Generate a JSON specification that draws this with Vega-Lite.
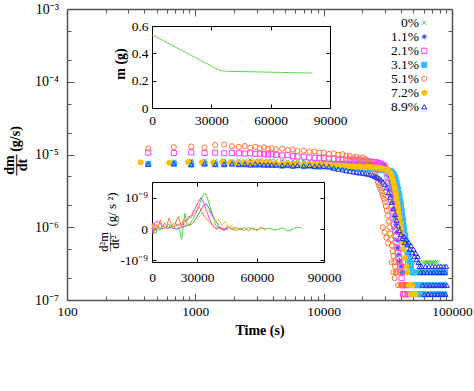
{
"$schema":"https://vega.github.io/schema/vega-lite/v6.json",
"width":385,"height":291,
"autosize":{"type":"none"},
"padding":{"left":67,"top":9,"right":22,"bottom":91},
"background":"white",
"datasets":{
"main":[
{"s":"0%","t":680,"v":8.0e-6},{"s":"0%","t":930,"v":8.2e-6},{"s":"0%","t":1180,"v":8.3e-6},{"s":"0%","t":1430,"v":8.1e-6},{"s":"0%","t":1680,"v":8.4e-6},{"s":"0%","t":1930,"v":8.2e-6},{"s":"0%","t":2180,"v":8.3e-6},{"s":"0%","t":2430,"v":8.1e-6},{"s":"0%","t":2680,"v":8.4e-6},{"s":"0%","t":2930,"v":8.2e-6},{"s":"0%","t":3180,"v":8.3e-6},{"s":"0%","t":3430,"v":8.1e-6},{"s":"0%","t":3680,"v":8.2e-6},{"s":"0%","t":3930,"v":8.3e-6},{"s":"0%","t":4250,"v":8.1e-6},{"s":"0%","t":4750,"v":8.2e-6},{"s":"0%","t":5250,"v":8.0e-6},{"s":"0%","t":5750,"v":8.2e-6},{"s":"0%","t":6250,"v":8.1e-6},{"s":"0%","t":7000,"v":8.0e-6},{"s":"0%","t":7750,"v":8.1e-6},{"s":"0%","t":8500,"v":7.9e-6},{"s":"0%","t":9250,"v":8.0e-6},{"s":"0%","t":10000,"v":7.9e-6},{"s":"0%","t":11000,"v":8.0e-6},{"s":"0%","t":12000,"v":7.8e-6},{"s":"0%","t":13000,"v":7.9e-6},{"s":"0%","t":14000,"v":7.8e-6},{"s":"0%","t":15000,"v":7.9e-6},{"s":"0%","t":16000,"v":7.7e-6},{"s":"0%","t":17000,"v":7.8e-6},{"s":"0%","t":18000,"v":7.7e-6},{"s":"0%","t":19000,"v":7.8e-6},{"s":"0%","t":20000,"v":7.6e-6},{"s":"0%","t":21000,"v":7.7e-6},{"s":"0%","t":22000,"v":7.6e-6},{"s":"0%","t":23000,"v":7.7e-6},{"s":"0%","t":24000,"v":7.5e-6},{"s":"0%","t":25000,"v":7.6e-6},{"s":"0%","t":26000,"v":7.5e-6},{"s":"0%","t":27000,"v":7.4e-6},{"s":"0%","t":28000,"v":7.4e-6},{"s":"0%","t":29000,"v":7.3e-6},{"s":"0%","t":29500,"v":7.2e-6},{"s":"0%","t":30000,"v":7.0e-6},{"s":"0%","t":30500,"v":6.7e-6},{"s":"0%","t":31000,"v":6.2e-6},{"s":"0%","t":31500,"v":5.6e-6},{"s":"0%","t":32000,"v":4.9e-6},{"s":"0%","t":32500,"v":4.2e-6},{"s":"0%","t":33000,"v":3.5e-6},{"s":"0%","t":33500,"v":2.8e-6},{"s":"0%","t":34000,"v":2.2e-6},{"s":"0%","t":34500,"v":1.7e-6},{"s":"0%","t":35000,"v":1.3e-6},{"s":"0%","t":35500,"v":0.95e-6},{"s":"0%","t":36000,"v":0.7e-6},{"s":"0%","t":36500,"v":0.52e-6},{"s":"0%","t":37000,"v":0.41e-6},{"s":"0%","t":37500,"v":0.33e-6},{"s":"0%","t":38000,"v":0.33e-6},{"s":"0%","t":39000,"v":0.24e-6},{"s":"0%","t":40000,"v":0.33e-6},{"s":"0%","t":42000,"v":0.24e-6},{"s":"0%","t":44000,"v":0.33e-6},{"s":"0%","t":46000,"v":0.24e-6},{"s":"0%","t":48000,"v":0.24e-6},{"s":"0%","t":50000,"v":0.33e-6},{"s":"0%","t":52000,"v":0.24e-6},{"s":"0%","t":54000,"v":0.24e-6},{"s":"0%","t":56000,"v":0.33e-6},{"s":"0%","t":58000,"v":0.24e-6},{"s":"0%","t":60000,"v":0.33e-6},{"s":"0%","t":61000,"v":0.24e-6},{"s":"0%","t":62000,"v":0.33e-6},{"s":"0%","t":63000,"v":0.24e-6},{"s":"0%","t":64000,"v":0.33e-6},{"s":"0%","t":65000,"v":0.24e-6},{"s":"0%","t":66000,"v":0.33e-6},{"s":"0%","t":67000,"v":0.24e-6},{"s":"0%","t":68000,"v":0.24e-6},{"s":"0%","t":69000,"v":0.33e-6},{"s":"0%","t":70000,"v":0.24e-6},{"s":"0%","t":71000,"v":0.33e-6},{"s":"0%","t":72000,"v":0.24e-6},{"s":"0%","t":73000,"v":0.24e-6},{"s":"0%","t":74000,"v":0.33e-6},{"s":"0%","t":75000,"v":0.24e-6},{"s":"0%","t":76000,"v":0.24e-6},{"s":"0%","t":77000,"v":0.33e-6},{"s":"0%","t":78000,"v":0.24e-6},
{"s":"1.1%","t":680,"v":7.7e-6},{"s":"1.1%","t":930,"v":7.9e-6},{"s":"1.1%","t":1180,"v":7.8e-6},{"s":"1.1%","t":1430,"v":7.7e-6},{"s":"1.1%","t":1680,"v":7.9e-6},{"s":"1.1%","t":1930,"v":7.8e-6},{"s":"1.1%","t":2180,"v":7.7e-6},{"s":"1.1%","t":2430,"v":7.8e-6},{"s":"1.1%","t":2680,"v":7.9e-6},{"s":"1.1%","t":2930,"v":7.7e-6},{"s":"1.1%","t":3180,"v":7.8e-6},{"s":"1.1%","t":3430,"v":7.7e-6},{"s":"1.1%","t":3680,"v":7.8e-6},{"s":"1.1%","t":3930,"v":7.6e-6},{"s":"1.1%","t":4250,"v":7.7e-6},{"s":"1.1%","t":4750,"v":7.8e-6},{"s":"1.1%","t":5250,"v":7.6e-6},{"s":"1.1%","t":5750,"v":7.7e-6},{"s":"1.1%","t":6250,"v":7.6e-6},{"s":"1.1%","t":7000,"v":7.7e-6},{"s":"1.1%","t":7750,"v":7.5e-6},{"s":"1.1%","t":8500,"v":7.6e-6},{"s":"1.1%","t":9250,"v":7.5e-6},{"s":"1.1%","t":10000,"v":7.6e-6},{"s":"1.1%","t":11000,"v":7.5e-6},{"s":"1.1%","t":12000,"v":7.6e-6},{"s":"1.1%","t":13000,"v":7.4e-6},{"s":"1.1%","t":14000,"v":7.5e-6},{"s":"1.1%","t":15000,"v":7.4e-6},{"s":"1.1%","t":16000,"v":7.5e-6},{"s":"1.1%","t":17000,"v":7.3e-6},{"s":"1.1%","t":18000,"v":7.4e-6},{"s":"1.1%","t":19000,"v":7.3e-6},{"s":"1.1%","t":20000,"v":7.4e-6},{"s":"1.1%","t":21000,"v":7.2e-6},{"s":"1.1%","t":22000,"v":7.3e-6},{"s":"1.1%","t":23000,"v":7.2e-6},{"s":"1.1%","t":24000,"v":7.3e-6},{"s":"1.1%","t":25000,"v":7.1e-6},{"s":"1.1%","t":26000,"v":7.2e-6},{"s":"1.1%","t":27000,"v":7.1e-6},{"s":"1.1%","t":28000,"v":7.0e-6},{"s":"1.1%","t":29000,"v":7.0e-6},{"s":"1.1%","t":30000,"v":6.9e-6},{"s":"1.1%","t":30500,"v":6.7e-6},{"s":"1.1%","t":31000,"v":6.4e-6},{"s":"1.1%","t":31500,"v":6.0e-6},{"s":"1.1%","t":32000,"v":5.5e-6},{"s":"1.1%","t":32500,"v":5.0e-6},{"s":"1.1%","t":33000,"v":4.4e-6},{"s":"1.1%","t":33500,"v":3.8e-6},{"s":"1.1%","t":34000,"v":3.2e-6},{"s":"1.1%","t":34500,"v":2.7e-6},{"s":"1.1%","t":35000,"v":2.2e-6},{"s":"1.1%","t":35500,"v":1.8e-6},{"s":"1.1%","t":36000,"v":1.4e-6},{"s":"1.1%","t":36500,"v":1.1e-6},{"s":"1.1%","t":37000,"v":0.85e-6},{"s":"1.1%","t":37500,"v":0.66e-6},{"s":"1.1%","t":38000,"v":0.52e-6},{"s":"1.1%","t":38500,"v":0.42e-6},{"s":"1.1%","t":39000,"v":0.35e-6},{"s":"1.1%","t":40000,"v":0.29e-6},{"s":"1.1%","t":41000,"v":0.24e-6},{"s":"1.1%","t":42000,"v":0.29e-6},{"s":"1.1%","t":43000,"v":0.24e-6},{"s":"1.1%","t":44000,"v":0.16e-6},{"s":"1.1%","t":45000,"v":0.24e-6},{"s":"1.1%","t":46000,"v":0.16e-6},{"s":"1.1%","t":48000,"v":0.16e-6},{"s":"1.1%","t":50000,"v":0.24e-6},
{"s":"2.1%","t":430,"v":10.6e-6},{"s":"2.1%","t":680,"v":10.5e-6},{"s":"2.1%","t":930,"v":10.7e-6},{"s":"2.1%","t":1180,"v":10.5e-6},{"s":"2.1%","t":1430,"v":10.6e-6},{"s":"2.1%","t":1680,"v":10.4e-6},{"s":"2.1%","t":1930,"v":10.5e-6},{"s":"2.1%","t":2180,"v":10.4e-6},{"s":"2.1%","t":2430,"v":10.3e-6},{"s":"2.1%","t":2680,"v":10.4e-6},{"s":"2.1%","t":2930,"v":10.2e-6},{"s":"2.1%","t":3180,"v":10.3e-6},{"s":"2.1%","t":3430,"v":10.1e-6},{"s":"2.1%","t":3680,"v":10.0e-6},{"s":"2.1%","t":3930,"v":10.1e-6},{"s":"2.1%","t":4250,"v":9.9e-6},{"s":"2.1%","t":4750,"v":9.7e-6},{"s":"2.1%","t":5250,"v":9.8e-6},{"s":"2.1%","t":5750,"v":9.5e-6},{"s":"2.1%","t":6250,"v":9.4e-6},{"s":"2.1%","t":7000,"v":9.3e-6},{"s":"2.1%","t":7750,"v":9.1e-6},{"s":"2.1%","t":8500,"v":9.0e-6},{"s":"2.1%","t":9250,"v":8.9e-6},{"s":"2.1%","t":10000,"v":8.9e-6},{"s":"2.1%","t":11000,"v":8.7e-6},{"s":"2.1%","t":12000,"v":8.6e-6},{"s":"2.1%","t":13000,"v":8.6e-6},{"s":"2.1%","t":14000,"v":8.4e-6},{"s":"2.1%","t":15000,"v":8.5e-6},{"s":"2.1%","t":16000,"v":8.3e-6},{"s":"2.1%","t":17000,"v":8.4e-6},{"s":"2.1%","t":18000,"v":8.2e-6},{"s":"2.1%","t":19000,"v":8.3e-6},{"s":"2.1%","t":20000,"v":8.1e-6},{"s":"2.1%","t":21000,"v":8.2e-6},{"s":"2.1%","t":22000,"v":8.0e-6},{"s":"2.1%","t":23000,"v":8.0e-6},{"s":"2.1%","t":24000,"v":7.9e-6},{"s":"2.1%","t":25000,"v":7.8e-6},{"s":"2.1%","t":26000,"v":7.8e-6},{"s":"2.1%","t":27000,"v":7.6e-6},{"s":"2.1%","t":28000,"v":7.5e-6},{"s":"2.1%","t":29000,"v":7.2e-6},{"s":"2.1%","t":29500,"v":7.0e-6},{"s":"2.1%","t":30000,"v":6.6e-6},{"s":"2.1%","t":30500,"v":6.1e-6},{"s":"2.1%","t":31000,"v":5.5e-6},{"s":"2.1%","t":31500,"v":4.8e-6},{"s":"2.1%","t":32000,"v":4.1e-6},{"s":"2.1%","t":32500,"v":3.5e-6},{"s":"2.1%","t":33000,"v":2.9e-6},{"s":"2.1%","t":33500,"v":2.4e-6},{"s":"2.1%","t":34000,"v":2.0e-6},{"s":"2.1%","t":34500,"v":1.65e-6},{"s":"2.1%","t":35000,"v":1.35e-6},{"s":"2.1%","t":35500,"v":1.1e-6},{"s":"2.1%","t":36000,"v":0.9e-6},{"s":"2.1%","t":36500,"v":0.75e-6},{"s":"2.1%","t":37000,"v":0.62e-6},{"s":"2.1%","t":37500,"v":0.52e-6},{"s":"2.1%","t":38000,"v":0.45e-6},{"s":"2.1%","t":38500,"v":0.38e-6},{"s":"2.1%","t":39000,"v":0.33e-6},{"s":"2.1%","t":39500,"v":0.29e-6},{"s":"2.1%","t":40000,"v":0.24e-6},{"s":"2.1%","t":40500,"v":0.2e-6},{"s":"2.1%","t":41000,"v":0.16e-6},{"s":"2.1%","t":41500,"v":0.12e-6},{"s":"2.1%","t":42000,"v":0.16e-6},{"s":"2.1%","t":43000,"v":0.12e-6},{"s":"2.1%","t":44000,"v":0.16e-6},{"s":"2.1%","t":45000,"v":0.12e-6},{"s":"2.1%","t":46000,"v":0.12e-6},
{"s":"3.1%","t":430,"v":7.4e-6},{"s":"3.1%","t":680,"v":7.5e-6},{"s":"3.1%","t":930,"v":7.3e-6},{"s":"3.1%","t":1180,"v":7.5e-6},{"s":"3.1%","t":1430,"v":7.4e-6},{"s":"3.1%","t":1680,"v":7.3e-6},{"s":"3.1%","t":1930,"v":7.5e-6},{"s":"3.1%","t":2180,"v":7.4e-6},{"s":"3.1%","t":2430,"v":7.3e-6},{"s":"3.1%","t":2680,"v":7.4e-6},{"s":"3.1%","t":2930,"v":7.2e-6},{"s":"3.1%","t":3180,"v":7.3e-6},{"s":"3.1%","t":3430,"v":7.4e-6},{"s":"3.1%","t":3680,"v":7.2e-6},{"s":"3.1%","t":3930,"v":7.3e-6},{"s":"3.1%","t":4250,"v":7.2e-6},{"s":"3.1%","t":4750,"v":7.0e-6},{"s":"3.1%","t":5250,"v":7.2e-6},{"s":"3.1%","t":5750,"v":7.0e-6},{"s":"3.1%","t":6250,"v":7.1e-6},{"s":"3.1%","t":7000,"v":6.9e-6},{"s":"3.1%","t":7750,"v":7.0e-6},{"s":"3.1%","t":8500,"v":6.9e-6},{"s":"3.1%","t":9250,"v":6.8e-6},{"s":"3.1%","t":10000,"v":6.9e-6},{"s":"3.1%","t":11000,"v":6.8e-6},{"s":"3.1%","t":12000,"v":6.7e-6},{"s":"3.1%","t":13000,"v":6.8e-6},{"s":"3.1%","t":14000,"v":6.6e-6},{"s":"3.1%","t":15000,"v":6.7e-6},{"s":"3.1%","t":16000,"v":6.6e-6},{"s":"3.1%","t":17000,"v":6.5e-6},{"s":"3.1%","t":18000,"v":6.6e-6},{"s":"3.1%","t":19000,"v":6.5e-6},{"s":"3.1%","t":20000,"v":6.4e-6},{"s":"3.1%","t":21000,"v":6.5e-6},{"s":"3.1%","t":22000,"v":6.4e-6},{"s":"3.1%","t":23000,"v":6.3e-6},{"s":"3.1%","t":24000,"v":6.4e-6},{"s":"3.1%","t":25000,"v":6.3e-6},{"s":"3.1%","t":26000,"v":6.2e-6},{"s":"3.1%","t":27000,"v":6.3e-6},{"s":"3.1%","t":28000,"v":6.2e-6},{"s":"3.1%","t":29000,"v":6.1e-6},{"s":"3.1%","t":30000,"v":6.2e-6},{"s":"3.1%","t":31000,"v":6.1e-6},{"s":"3.1%","t":32000,"v":6.0e-6},{"s":"3.1%","t":33000,"v":5.9e-6},{"s":"3.1%","t":34000,"v":5.7e-6},{"s":"3.1%","t":35000,"v":5.4e-6},{"s":"3.1%","t":35500,"v":5.1e-6},{"s":"3.1%","t":36000,"v":4.8e-6},{"s":"3.1%","t":36500,"v":4.5e-6},{"s":"3.1%","t":37000,"v":4.1e-6},{"s":"3.1%","t":37500,"v":3.7e-6},{"s":"3.1%","t":38000,"v":3.3e-6},{"s":"3.1%","t":38500,"v":2.9e-6},{"s":"3.1%","t":39000,"v":2.6e-6},{"s":"3.1%","t":39500,"v":2.3e-6},{"s":"3.1%","t":40000,"v":2.0e-6},{"s":"3.1%","t":40500,"v":1.7e-6},{"s":"3.1%","t":41000,"v":1.45e-6},{"s":"3.1%","t":41500,"v":1.25e-6},{"s":"3.1%","t":42000,"v":1.05e-6},{"s":"3.1%","t":42500,"v":0.9e-6},{"s":"3.1%","t":43000,"v":0.78e-6},{"s":"3.1%","t":43500,"v":0.67e-6},{"s":"3.1%","t":44000,"v":0.58e-6},{"s":"3.1%","t":45000,"v":0.45e-6},{"s":"3.1%","t":46000,"v":0.38e-6},{"s":"3.1%","t":47000,"v":0.33e-6},{"s":"3.1%","t":48000,"v":0.29e-6},{"s":"3.1%","t":49000,"v":0.24e-6},{"s":"3.1%","t":50000,"v":0.24e-6},{"s":"3.1%","t":51000,"v":0.16e-6},{"s":"3.1%","t":52000,"v":0.24e-6},{"s":"3.1%","t":53000,"v":0.16e-6},{"s":"3.1%","t":54000,"v":0.12e-6},{"s":"3.1%","t":55000,"v":0.16e-6},{"s":"3.1%","t":56000,"v":0.24e-6},{"s":"3.1%","t":57000,"v":0.12e-6},{"s":"3.1%","t":58000,"v":0.16e-6},{"s":"3.1%","t":59000,"v":0.12e-6},{"s":"3.1%","t":60000,"v":0.24e-6},{"s":"3.1%","t":62000,"v":0.16e-6},{"s":"3.1%","t":63000,"v":0.12e-6},{"s":"3.1%","t":64000,"v":0.24e-6},{"s":"3.1%","t":66000,"v":0.16e-6},{"s":"3.1%","t":67000,"v":0.12e-6},{"s":"3.1%","t":68000,"v":0.24e-6},{"s":"3.1%","t":70000,"v":0.16e-6},{"s":"3.1%","t":71000,"v":0.12e-6},{"s":"3.1%","t":72000,"v":0.24e-6},{"s":"3.1%","t":74000,"v":0.16e-6},{"s":"3.1%","t":75000,"v":0.12e-6},{"s":"3.1%","t":76000,"v":0.24e-6},{"s":"3.1%","t":78000,"v":0.16e-6},{"s":"3.1%","t":79000,"v":0.12e-6},{"s":"3.1%","t":80000,"v":0.24e-6},{"s":"3.1%","t":82000,"v":0.16e-6},{"s":"3.1%","t":83000,"v":0.12e-6},{"s":"3.1%","t":84000,"v":0.24e-6},{"s":"3.1%","t":86000,"v":0.16e-6},{"s":"3.1%","t":87000,"v":0.12e-6},{"s":"3.1%","t":88000,"v":0.24e-6},
{"s":"5.1%","t":430,"v":12.1e-6},{"s":"5.1%","t":680,"v":12.6e-6},{"s":"5.1%","t":930,"v":12.9e-6},{"s":"5.1%","t":1180,"v":12.5e-6},{"s":"5.1%","t":1430,"v":13.5e-6},{"s":"5.1%","t":1680,"v":13.7e-6},{"s":"5.1%","t":1930,"v":13.0e-6},{"s":"5.1%","t":2180,"v":12.7e-6},{"s":"5.1%","t":2430,"v":13.1e-6},{"s":"5.1%","t":2680,"v":12.4e-6},{"s":"5.1%","t":2930,"v":12.7e-6},{"s":"5.1%","t":3180,"v":12.2e-6},{"s":"5.1%","t":3430,"v":12.5e-6},{"s":"5.1%","t":3680,"v":12.0e-6},{"s":"5.1%","t":3930,"v":12.2e-6},{"s":"5.1%","t":4250,"v":11.8e-6},{"s":"5.1%","t":4750,"v":12.0e-6},{"s":"5.1%","t":5250,"v":11.5e-6},{"s":"5.1%","t":5750,"v":11.7e-6},{"s":"5.1%","t":6250,"v":11.2e-6},{"s":"5.1%","t":7000,"v":11.3e-6},{"s":"5.1%","t":7750,"v":10.9e-6},{"s":"5.1%","t":8500,"v":11.0e-6},{"s":"5.1%","t":9250,"v":10.6e-6},{"s":"5.1%","t":10000,"v":10.6e-6},{"s":"5.1%","t":11000,"v":10.2e-6},{"s":"5.1%","t":12000,"v":10.4e-6},{"s":"5.1%","t":13000,"v":9.9e-6},{"s":"5.1%","t":14000,"v":10.1e-6},{"s":"5.1%","t":15000,"v":9.6e-6},{"s":"5.1%","t":16000,"v":9.5e-6},{"s":"5.1%","t":17000,"v":9.1e-6},{"s":"5.1%","t":18000,"v":9.3e-6},{"s":"5.1%","t":19000,"v":8.9e-6},{"s":"5.1%","t":20000,"v":9.1e-6},{"s":"5.1%","t":21000,"v":8.7e-6},{"s":"5.1%","t":22000,"v":8.3e-6},{"s":"5.1%","t":23000,"v":7.7e-6},{"s":"5.1%","t":24000,"v":6.8e-6},{"s":"5.1%","t":25000,"v":5.8e-6},{"s":"5.1%","t":25500,"v":5.2e-6},{"s":"5.1%","t":26000,"v":4.7e-6},{"s":"5.1%","t":26500,"v":4.2e-6},{"s":"5.1%","t":27000,"v":3.8e-6},{"s":"5.1%","t":27500,"v":3.5e-6},{"s":"5.1%","t":28000,"v":3.2e-6},{"s":"5.1%","t":28500,"v":2.95e-6},{"s":"5.1%","t":29000,"v":2.7e-6},{"s":"5.1%","t":29500,"v":2.45e-6},{"s":"5.1%","t":30000,"v":2.2e-6},{"s":"5.1%","t":30500,"v":1.95e-6},{"s":"5.1%","t":31000,"v":1.7e-6},{"s":"5.1%","t":31500,"v":1.45e-6},{"s":"5.1%","t":32000,"v":1.2e-6},{"s":"5.1%","t":32500,"v":1.0e-6},{"s":"5.1%","t":33000,"v":0.82e-6},{"s":"5.1%","t":33500,"v":0.68e-6},{"s":"5.1%","t":34000,"v":0.56e-6},{"s":"5.1%","t":34500,"v":0.47e-6},{"s":"5.1%","t":35000,"v":0.4e-6},{"s":"5.1%","t":35500,"v":0.33e-6},{"s":"5.1%","t":36000,"v":0.29e-6},{"s":"5.1%","t":36500,"v":0.24e-6},{"s":"5.1%","t":37000,"v":0.24e-6},{"s":"5.1%","t":38000,"v":0.16e-6},{"s":"5.1%","t":39000,"v":0.24e-6},{"s":"5.1%","t":40000,"v":0.16e-6},{"s":"5.1%","t":41000,"v":0.16e-6},{"s":"5.1%","t":42000,"v":0.12e-6},{"s":"5.1%","t":43000,"v":0.16e-6},{"s":"5.1%","t":28800,"v":1.0e-6},{"s":"5.1%","t":29800,"v":0.85e-6},{"s":"5.1%","t":30800,"v":0.72e-6},{"s":"5.1%","t":31800,"v":0.6e-6},{"s":"5.1%","t":33800,"v":0.33e-6},{"s":"5.1%","t":34800,"v":0.24e-6},{"s":"5.1%","t":35800,"v":0.2e-6},
{"s":"7.2%","t":375,"v":7.8e-6},{"s":"7.2%","t":625,"v":7.7e-6},{"s":"7.2%","t":875,"v":7.9e-6},{"s":"7.2%","t":1125,"v":7.8e-6},{"s":"7.2%","t":1375,"v":7.7e-6},{"s":"7.2%","t":1625,"v":7.9e-6},{"s":"7.2%","t":1875,"v":7.8e-6},{"s":"7.2%","t":2125,"v":7.7e-6},{"s":"7.2%","t":2375,"v":7.8e-6},{"s":"7.2%","t":2625,"v":7.6e-6},{"s":"7.2%","t":2875,"v":7.7e-6},{"s":"7.2%","t":3125,"v":7.8e-6},{"s":"7.2%","t":3375,"v":7.6e-6},{"s":"7.2%","t":3625,"v":7.7e-6},{"s":"7.2%","t":3875,"v":7.6e-6},{"s":"7.2%","t":4250,"v":7.6e-6},{"s":"7.2%","t":4750,"v":7.5e-6},{"s":"7.2%","t":5250,"v":7.6e-6},{"s":"7.2%","t":5750,"v":7.4e-6},{"s":"7.2%","t":6250,"v":7.5e-6},{"s":"7.2%","t":7000,"v":7.4e-6},{"s":"7.2%","t":7750,"v":7.3e-6},{"s":"7.2%","t":8500,"v":7.4e-6},{"s":"7.2%","t":9250,"v":7.3e-6},{"s":"7.2%","t":10000,"v":7.2e-6},{"s":"7.2%","t":11000,"v":7.2e-6},{"s":"7.2%","t":12000,"v":7.1e-6},{"s":"7.2%","t":13000,"v":7.1e-6},{"s":"7.2%","t":14000,"v":7.0e-6},{"s":"7.2%","t":15000,"v":7.0e-6},{"s":"7.2%","t":16000,"v":6.9e-6},{"s":"7.2%","t":17000,"v":6.9e-6},{"s":"7.2%","t":18000,"v":6.8e-6},{"s":"7.2%","t":19000,"v":6.9e-6},{"s":"7.2%","t":20000,"v":6.8e-6},{"s":"7.2%","t":21000,"v":6.7e-6},{"s":"7.2%","t":22000,"v":6.8e-6},{"s":"7.2%","t":23000,"v":6.7e-6},{"s":"7.2%","t":24000,"v":6.6e-6},{"s":"7.2%","t":25000,"v":6.7e-6},{"s":"7.2%","t":26000,"v":6.6e-6},{"s":"7.2%","t":27000,"v":6.5e-6},{"s":"7.2%","t":28000,"v":6.5e-6},{"s":"7.2%","t":29000,"v":6.4e-6},{"s":"7.2%","t":30000,"v":6.3e-6},{"s":"7.2%","t":31000,"v":6.2e-6},{"s":"7.2%","t":32000,"v":6.0e-6},{"s":"7.2%","t":33000,"v":5.6e-6},{"s":"7.2%","t":33500,"v":5.3e-6},{"s":"7.2%","t":34000,"v":4.9e-6},{"s":"7.2%","t":34500,"v":4.5e-6},{"s":"7.2%","t":35000,"v":4.1e-6},{"s":"7.2%","t":35500,"v":3.7e-6},{"s":"7.2%","t":36000,"v":3.3e-6},{"s":"7.2%","t":36500,"v":2.9e-6},{"s":"7.2%","t":37000,"v":2.5e-6},{"s":"7.2%","t":37500,"v":2.15e-6},{"s":"7.2%","t":38000,"v":1.85e-6},{"s":"7.2%","t":38500,"v":1.6e-6},{"s":"7.2%","t":39000,"v":1.35e-6},{"s":"7.2%","t":39500,"v":1.15e-6},{"s":"7.2%","t":40000,"v":0.97e-6},{"s":"7.2%","t":40500,"v":0.82e-6},{"s":"7.2%","t":41000,"v":0.7e-6},{"s":"7.2%","t":41500,"v":0.6e-6},{"s":"7.2%","t":42000,"v":0.5e-6},{"s":"7.2%","t":43000,"v":0.38e-6},{"s":"7.2%","t":44000,"v":0.29e-6},{"s":"7.2%","t":45000,"v":0.24e-6},{"s":"7.2%","t":46000,"v":0.16e-6},{"s":"7.2%","t":47000,"v":0.16e-6},{"s":"7.2%","t":48000,"v":0.12e-6},{"s":"7.2%","t":49000,"v":0.16e-6},{"s":"7.2%","t":50000,"v":0.12e-6},{"s":"7.2%","t":51000,"v":0.12e-6},{"s":"7.2%","t":52000,"v":0.12e-6},
{"s":"8.9%","t":430,"v":7.4e-6},{"s":"8.9%","t":680,"v":7.5e-6},{"s":"8.9%","t":930,"v":7.3e-6},{"s":"8.9%","t":1180,"v":7.5e-6},{"s":"8.9%","t":1430,"v":7.3e-6},{"s":"8.9%","t":1680,"v":7.4e-6},{"s":"8.9%","t":1930,"v":7.5e-6},{"s":"8.9%","t":2180,"v":7.3e-6},{"s":"8.9%","t":2430,"v":7.4e-6},{"s":"8.9%","t":2680,"v":7.2e-6},{"s":"8.9%","t":2930,"v":7.4e-6},{"s":"8.9%","t":3180,"v":7.3e-6},{"s":"8.9%","t":3430,"v":7.2e-6},{"s":"8.9%","t":3680,"v":7.3e-6},{"s":"8.9%","t":3930,"v":7.2e-6},{"s":"8.9%","t":4250,"v":7.2e-6},{"s":"8.9%","t":4750,"v":7.1e-6},{"s":"8.9%","t":5250,"v":7.2e-6},{"s":"8.9%","t":5750,"v":7.0e-6},{"s":"8.9%","t":6250,"v":7.1e-6},{"s":"8.9%","t":7000,"v":7.0e-6},{"s":"8.9%","t":7750,"v":7.1e-6},{"s":"8.9%","t":8500,"v":6.9e-6},{"s":"8.9%","t":9250,"v":7.0e-6},{"s":"8.9%","t":10000,"v":6.9e-6},{"s":"8.9%","t":11000,"v":6.8e-6},{"s":"8.9%","t":12000,"v":6.5e-6},{"s":"8.9%","t":13000,"v":6.3e-6},{"s":"8.9%","t":14000,"v":6.2e-6},{"s":"8.9%","t":15000,"v":6.0e-6},{"s":"8.9%","t":16000,"v":5.9e-6},{"s":"8.9%","t":17000,"v":5.8e-6},{"s":"8.9%","t":18000,"v":5.7e-6},{"s":"8.9%","t":19000,"v":5.6e-6},{"s":"8.9%","t":20000,"v":5.6e-6},{"s":"8.9%","t":21000,"v":5.5e-6},{"s":"8.9%","t":22000,"v":5.4e-6},{"s":"8.9%","t":23000,"v":5.3e-6},{"s":"8.9%","t":24000,"v":5.2e-6},{"s":"8.9%","t":25000,"v":5.0e-6},{"s":"8.9%","t":26000,"v":4.9e-6},{"s":"8.9%","t":27000,"v":4.7e-6},{"s":"8.9%","t":28000,"v":4.5e-6},{"s":"8.9%","t":29000,"v":4.2e-6},{"s":"8.9%","t":30000,"v":3.9e-6},{"s":"8.9%","t":31000,"v":3.5e-6},{"s":"8.9%","t":32000,"v":3.0e-6},{"s":"8.9%","t":33000,"v":2.6e-6},{"s":"8.9%","t":34000,"v":2.2e-6},{"s":"8.9%","t":35000,"v":1.8e-6},{"s":"8.9%","t":36000,"v":1.5e-6},{"s":"8.9%","t":37000,"v":1.25e-6},{"s":"8.9%","t":38000,"v":1.05e-6},{"s":"8.9%","t":39000,"v":0.9e-6},{"s":"8.9%","t":40000,"v":0.8e-6},{"s":"8.9%","t":41000,"v":0.7e-6},{"s":"8.9%","t":42000,"v":0.75e-6},{"s":"8.9%","t":43000,"v":0.62e-6},{"s":"8.9%","t":44000,"v":0.68e-6},{"s":"8.9%","t":45000,"v":0.58e-6},{"s":"8.9%","t":46000,"v":0.62e-6},{"s":"8.9%","t":47000,"v":0.5e-6},{"s":"8.9%","t":48000,"v":0.56e-6},{"s":"8.9%","t":49000,"v":0.45e-6},{"s":"8.9%","t":50000,"v":0.5e-6},{"s":"8.9%","t":51000,"v":0.4e-6},{"s":"8.9%","t":52000,"v":0.44e-6},{"s":"8.9%","t":53000,"v":0.36e-6},{"s":"8.9%","t":54000,"v":0.4e-6},{"s":"8.9%","t":55000,"v":0.33e-6},{"s":"8.9%","t":56000,"v":0.29e-6},{"s":"8.9%","t":57000,"v":0.24e-6},{"s":"8.9%","t":58000,"v":0.29e-6},{"s":"8.9%","t":59000,"v":0.16e-6},{"s":"8.9%","t":60000,"v":0.24e-6},{"s":"8.9%","t":61000,"v":0.12e-6},{"s":"8.9%","t":62000,"v":0.29e-6},{"s":"8.9%","t":63000,"v":0.16e-6},{"s":"8.9%","t":64000,"v":0.24e-6},{"s":"8.9%","t":65000,"v":0.12e-6},{"s":"8.9%","t":66000,"v":0.29e-6},{"s":"8.9%","t":67000,"v":0.16e-6},{"s":"8.9%","t":68000,"v":0.24e-6},{"s":"8.9%","t":69000,"v":0.12e-6},{"s":"8.9%","t":70000,"v":0.29e-6},{"s":"8.9%","t":71000,"v":0.16e-6},{"s":"8.9%","t":72000,"v":0.24e-6},{"s":"8.9%","t":73000,"v":0.12e-6},{"s":"8.9%","t":74000,"v":0.29e-6},{"s":"8.9%","t":75000,"v":0.16e-6},{"s":"8.9%","t":76000,"v":0.24e-6},{"s":"8.9%","t":77000,"v":0.12e-6},{"s":"8.9%","t":78000,"v":0.29e-6},{"s":"8.9%","t":79000,"v":0.16e-6},{"s":"8.9%","t":80000,"v":0.24e-6},{"s":"8.9%","t":81000,"v":0.12e-6},{"s":"8.9%","t":82000,"v":0.29e-6},{"s":"8.9%","t":83000,"v":0.16e-6},{"s":"8.9%","t":84000,"v":0.24e-6},{"s":"8.9%","t":85000,"v":0.12e-6},{"s":"8.9%","t":86000,"v":0.29e-6},{"s":"8.9%","t":87000,"v":0.16e-6},{"s":"8.9%","t":88000,"v":0.24e-6},{"s":"8.9%","t":89000,"v":0.12e-6},{"s":"8.9%","t":90000,"v":0.29e-6},{"s":"8.9%","t":91000,"v":0.16e-6}
],
"mass":[
{"t":0,"m":0.535},{"t":2500,"m":0.517},{"t":5000,"m":0.498},{"t":7500,"m":0.479},{"t":10000,"m":0.46},{"t":12500,"m":0.441},{"t":15000,"m":0.422},{"t":17500,"m":0.403},{"t":20000,"m":0.384},{"t":22500,"m":0.365},{"t":25000,"m":0.346},{"t":27500,"m":0.327},{"t":30000,"m":0.308},{"t":32000,"m":0.292},{"t":33500,"m":0.281},{"t":34500,"m":0.275},{"t":35500,"m":0.272},{"t":37000,"m":0.27},{"t":40000,"m":0.268},{"t":45000,"m":0.2665},{"t":50000,"m":0.265},{"t":55000,"m":0.2635},{"t":60000,"m":0.262},{"t":65000,"m":0.2605},{"t":70000,"m":0.259},{"t":75000,"m":0.2575},{"t":80000,"m":0.256},{"t":81000,"m":0.2555}
],
"d2":[
{"s":"0%","t":0,"a":0.0},{"s":"0%","t":1000,"a":0.05e-9},{"s":"0%","t":2500,"a":-0.1e-9},{"s":"0%","t":4000,"a":-0.15e-9},{"s":"0%","t":5500,"a":0.05e-9},{"s":"0%","t":7000,"a":-0.05e-9},{"s":"0%","t":9000,"a":0.1e-9},{"s":"0%","t":11000,"a":0.05e-9},{"s":"0%","t":13000,"a":0.15e-9},{"s":"0%","t":15000,"a":0.1e-9},{"s":"0%","t":17000,"a":0.2e-9},{"s":"0%","t":19000,"a":0.1e-9},{"s":"0%","t":20300,"a":-0.1e-9},{"s":"0%","t":21300,"a":-0.33e-9},{"s":"0%","t":23200,"a":0.5e-9},{"s":"0%","t":24500,"a":0.15e-9},{"s":"0%","t":26000,"a":0.15e-9},{"s":"0%","t":27500,"a":0.3e-9},{"s":"0%","t":29000,"a":0.45e-9},{"s":"0%","t":30500,"a":0.65e-9},{"s":"0%","t":32000,"a":0.9e-9},{"s":"0%","t":33500,"a":1.1e-9},{"s":"0%","t":34300,"a":1.15e-9},{"s":"0%","t":35500,"a":1.0e-9},{"s":"0%","t":37000,"a":0.7e-9},{"s":"0%","t":38500,"a":0.4e-9},{"s":"0%","t":40000,"a":0.1e-9},{"s":"0%","t":42000,"a":0.02e-9},{"s":"0%","t":44000,"a":-0.03e-9},{"s":"0%","t":46000,"a":0.05e-9},{"s":"0%","t":48000,"a":0.0},{"s":"0%","t":50000,"a":-0.05e-9},{"s":"0%","t":52000,"a":0.03e-9},{"s":"0%","t":54000,"a":-0.05e-9},{"s":"0%","t":56000,"a":0.05e-9},{"s":"0%","t":58000,"a":0.0},{"s":"0%","t":60000,"a":-0.02e-9},{"s":"0%","t":62000,"a":0.03e-9},{"s":"0%","t":64000,"a":0.0},{"s":"0%","t":66000,"a":0.02e-9},{"s":"0%","t":68000,"a":-0.03e-9},{"s":"0%","t":70000,"a":0.0},{"s":"0%","t":72000,"a":0.04e-9},{"s":"0%","t":74000,"a":-0.06e-9},{"s":"0%","t":76000,"a":-0.02e-9},{"s":"0%","t":78000,"a":0.06e-9},{"s":"0%","t":80000,"a":0.05e-9},
{"s":"1.1%","t":0,"a":0.05e-9},{"s":"1.1%","t":3000,"a":0.0},{"s":"1.1%","t":6000,"a":0.05e-9},{"s":"1.1%","t":9000,"a":0.0},{"s":"1.1%","t":12000,"a":0.08e-9},{"s":"1.1%","t":15000,"a":0.05e-9},{"s":"1.1%","t":18000,"a":0.0},{"s":"1.1%","t":21000,"a":0.05e-9},{"s":"1.1%","t":24000,"a":0.1e-9},{"s":"1.1%","t":27000,"a":0.15e-9},{"s":"1.1%","t":29000,"a":0.3e-9},{"s":"1.1%","t":31000,"a":0.5e-9},{"s":"1.1%","t":33000,"a":0.7e-9},{"s":"1.1%","t":34800,"a":0.82e-9},{"s":"1.1%","t":36500,"a":0.65e-9},{"s":"1.1%","t":38000,"a":0.45e-9},{"s":"1.1%","t":40000,"a":0.25e-9},{"s":"1.1%","t":42000,"a":0.05e-9},{"s":"1.1%","t":44000,"a":0.0},{"s":"1.1%","t":46000,"a":0.03e-9},
{"s":"2.1%","t":0,"a":0.05e-9},{"s":"2.1%","t":1500,"a":-0.15e-9},{"s":"2.1%","t":3000,"a":0.2e-9},{"s":"2.1%","t":5000,"a":0.25e-9},{"s":"2.1%","t":7000,"a":0.2e-9},{"s":"2.1%","t":9000,"a":0.1e-9},{"s":"2.1%","t":11000,"a":0.05e-9},{"s":"2.1%","t":13000,"a":0.0},{"s":"2.1%","t":15000,"a":0.1e-9},{"s":"2.1%","t":17000,"a":0.05e-9},{"s":"2.1%","t":19000,"a":0.15e-9},{"s":"2.1%","t":21000,"a":0.1e-9},{"s":"2.1%","t":23000,"a":0.2e-9},{"s":"2.1%","t":25000,"a":0.35e-9},{"s":"2.1%","t":27000,"a":0.45e-9},{"s":"2.1%","t":29000,"a":0.65e-9},{"s":"2.1%","t":30500,"a":0.85e-9},{"s":"2.1%","t":32200,"a":1.0e-9},{"s":"2.1%","t":33500,"a":0.85e-9},{"s":"2.1%","t":35000,"a":0.6e-9},{"s":"2.1%","t":36500,"a":0.35e-9},{"s":"2.1%","t":38000,"a":0.15e-9},{"s":"2.1%","t":40000,"a":0.0},{"s":"2.1%","t":42000,"a":0.05e-9},{"s":"2.1%","t":44000,"a":-0.02e-9},{"s":"2.1%","t":46000,"a":0.0},
{"s":"5.1%","t":0,"a":0.1e-9},{"s":"5.1%","t":1500,"a":0.2e-9},{"s":"5.1%","t":3000,"a":-0.05e-9},{"s":"5.1%","t":4500,"a":0.15e-9},{"s":"5.1%","t":6000,"a":0.05e-9},{"s":"5.1%","t":7500,"a":0.3e-9},{"s":"5.1%","t":9000,"a":0.05e-9},{"s":"5.1%","t":10500,"a":0.2e-9},{"s":"5.1%","t":12000,"a":0.1e-9},{"s":"5.1%","t":13500,"a":0.35e-9},{"s":"5.1%","t":15000,"a":0.15e-9},{"s":"5.1%","t":16500,"a":0.05e-9},{"s":"5.1%","t":18000,"a":0.25e-9},{"s":"5.1%","t":19500,"a":0.4e-9},{"s":"5.1%","t":21000,"a":0.1e-9},{"s":"5.1%","t":22500,"a":0.3e-9},{"s":"5.1%","t":24000,"a":0.25e-9},{"s":"5.1%","t":25500,"a":0.35e-9},{"s":"5.1%","t":27000,"a":0.4e-9},{"s":"5.1%","t":28500,"a":0.5e-9},{"s":"5.1%","t":30000,"a":0.6e-9},{"s":"5.1%","t":31000,"a":0.72e-9},{"s":"5.1%","t":32500,"a":0.55e-9},{"s":"5.1%","t":34000,"a":0.4e-9},{"s":"5.1%","t":35500,"a":0.3e-9},{"s":"5.1%","t":37000,"a":0.2e-9},{"s":"5.1%","t":38500,"a":0.1e-9},{"s":"5.1%","t":40000,"a":0.02e-9},{"s":"5.1%","t":42000,"a":0.05e-9},{"s":"5.1%","t":44000,"a":-0.05e-9},{"s":"5.1%","t":46000,"a":0.1e-9},{"s":"5.1%","t":48000,"a":0.0},{"s":"5.1%","t":50000,"a":0.05e-9},{"s":"5.1%","t":52000,"a":-0.03e-9},{"s":"5.1%","t":54000,"a":0.05e-9},{"s":"5.1%","t":56000,"a":-0.06e-9},{"s":"5.1%","t":58000,"a":0.04e-9},{"s":"5.1%","t":60000,"a":-0.05e-9},{"s":"5.1%","t":62000,"a":0.05e-9},{"s":"5.1%","t":64000,"a":-0.02e-9},
{"s":"7.2%","t":0,"a":0.15e-9},{"s":"7.2%","t":2000,"a":0.0},{"s":"7.2%","t":4000,"a":0.1e-9},{"s":"7.2%","t":6000,"a":0.0},{"s":"7.2%","t":8000,"a":0.05e-9},{"s":"7.2%","t":10000,"a":0.1e-9},{"s":"7.2%","t":12000,"a":0.05e-9},{"s":"7.2%","t":14000,"a":0.1e-9},{"s":"7.2%","t":16000,"a":0.05e-9},{"s":"7.2%","t":18000,"a":0.1e-9},{"s":"7.2%","t":20000,"a":0.05e-9},{"s":"7.2%","t":22000,"a":0.1e-9},{"s":"7.2%","t":24000,"a":0.15e-9},{"s":"7.2%","t":26000,"a":0.1e-9},{"s":"7.2%","t":28000,"a":0.2e-9},{"s":"7.2%","t":30000,"a":0.3e-9},{"s":"7.2%","t":32000,"a":0.45e-9},{"s":"7.2%","t":34000,"a":0.55e-9},{"s":"7.2%","t":35500,"a":0.62e-9},{"s":"7.2%","t":37000,"a":0.5e-9},{"s":"7.2%","t":38500,"a":0.35e-9},{"s":"7.2%","t":40000,"a":0.25e-9},{"s":"7.2%","t":41500,"a":0.3e-9},{"s":"7.2%","t":43000,"a":0.1e-9},{"s":"7.2%","t":44500,"a":0.25e-9},{"s":"7.2%","t":46000,"a":0.05e-9},{"s":"7.2%","t":48000,"a":0.1e-9},{"s":"7.2%","t":50000,"a":0.0}
]
},
"layer":[
{
"data":{"name":"main"},
"mark":{"type":"point","size":26,"strokeWidth":1,"opacity":1},
"encoding":{
"x":{"field":"t","type":"quantitative","scale":{"type":"log","domain":[100,100000],"nice":false},
"axis":{"orient":"bottom","values":[100,200,300,400,500,600,700,800,900,1000,2000,3000,4000,5000,6000,7000,8000,9000,10000,20000,30000,40000,50000,60000,70000,80000,90000,100000],
"format":"d","labelExpr":"abs(log(datum.value)/LN10 - round(log(datum.value)/LN10)) < 0.01 ? datum.label : ''",
"tickSize":{"condition":{"test":"abs(log(datum.value)/LN10 - round(log(datum.value)/LN10)) < 0.01","value":-7},"value":-4},
"labelPadding":11,"labelFontSize":13.5,"domainColor":"#555555","domainWidth":1.5,"tickColor":"#555555",
"title":"Time (s)","titleFontWeight":"bold","titleFontSize":14,"titleX":192.5,"titleY":34,"titleAlign":"center","titleBaseline":"alphabetic"}},
"y":{"field":"v","type":"quantitative","scale":{"type":"log","domain":[1e-7,1e-3],"nice":false},
"axis":{"orient":"left","values":[1e-7,2e-7,5e-7,1e-6,2e-6,5e-6,1e-5,2e-5,5e-5,1e-4,2e-4,5e-4,1e-3],
"labelExpr":"abs(log(datum.value)/LN10 - round(log(datum.value)/LN10)) > 0.01 ? '' : round(log(datum.value)/LN10) == -3 ? '10⁻³' : round(log(datum.value)/LN10) == -4 ? '10⁻⁴' : round(log(datum.value)/LN10) == -5 ? '10⁻⁵' : round(log(datum.value)/LN10) == -6 ? '10⁻⁶' : '10⁻⁷'",
"tickSize":{"condition":{"test":"abs(log(datum.value)/LN10 - round(log(datum.value)/LN10)) < 0.01","value":-7},"value":-4},
"labelPadding":15.5,"labelFontSize":14,"domainColor":"#555555","domainWidth":1.5,"tickColor":"#555555",
"title":["dm","—–","dt"],"titleFontWeight":"bold","titleFontSize":14,"titleLineHeight":6.7,"titleAngle":270,"titleX":-54,"titleY":155.5,"titleAlign":"center","titleBaseline":"alphabetic"}},
"shape":{"field":"s","type":"nominal","scale":{"domain":["0%","1.1%","2.1%","3.1%","5.1%","7.2%","8.9%"],"range":["M-0.8,-0.8L0.8,0.8M-0.8,0.8L0.8,-0.8","M-1,0L1,0M0,-1L0,1M-0.7,-0.7L0.7,0.7M-0.7,0.7L0.7,-0.7","square","square","circle","circle","triangle-up"]},
"legend":{"title":null,"orient":"none","legendX":350.5,"legendY":7}},
"fill":{"field":"s","type":"nominal","scale":{"domain":["0%","1.1%","2.1%","3.1%","5.1%","7.2%","8.9%"],"range":["transparent","transparent","transparent","#33bbff","transparent","#ffc000","transparent"]},
"legend":{"title":null,"orient":"none","legendX":350.5,"legendY":7}},
"stroke":{"field":"s","type":"nominal","scale":{"domain":["0%","1.1%","2.1%","3.1%","5.1%","7.2%","8.9%"],"range":["#2ecc2e","#3d3dff","#ff40ff","#33bbff","#ff7030","#ffc000","#2233ee"]},
"legend":{"title":null,"orient":"none","legendX":350.5,"legendY":7}}
}
},
{
"data":{"values":[{"t":100,"v":1e-7},{"t":100000,"v":1e-3}]},
"mark":{"type":"point","opacity":0},
"encoding":{
"x":{"field":"t","type":"quantitative","scale":{"type":"log","domain":[100,100000],"nice":false},
"axis":{"orient":"top","values":[100,200,300,400,500,600,700,800,900,1000,2000,3000,4000,5000,6000,7000,8000,9000,10000,20000,30000,40000,50000,60000,70000,80000,90000,100000],
"labels":false,"tickSize":{"condition":{"test":"abs(log(datum.value)/LN10 - round(log(datum.value)/LN10)) < 0.01","value":-7},"value":-4},
"domainColor":"#555555","domainWidth":1.5,"tickColor":"#555555","title":null}},
"y":{"field":"v","type":"quantitative","scale":{"type":"log","domain":[1e-7,1e-3],"nice":false},
"axis":{"orient":"right","values":[1e-7,2e-7,5e-7,1e-6,2e-6,5e-6,1e-5,2e-5,5e-5,1e-4,2e-4,5e-4,1e-3],
"labels":false,"tickSize":{"condition":{"test":"abs(log(datum.value)/LN10 - round(log(datum.value)/LN10)) < 0.01","value":-7},"value":-4},
"domainColor":"#555555","domainWidth":1.5,"tickColor":"#555555",
"title":"(g/s)","titleFontWeight":"bold","titleFontSize":14,"titleAngle":270,"titleX":-432.5,"titleY":129.5,"titleAlign":"center","titleBaseline":"alphabetic"}}
}
},
{
"data":{"name":"mass"},
"mark":{"type":"line","color":"#55dd44","strokeWidth":1},
"encoding":{
"x":{"field":"t","type":"quantitative","scale":{"domain":[0,90000],"range":[85,263],"nice":false,"zero":false},
"axis":{"orient":"bottom","offset":-192,"values":[0,30000,60000,90000],"format":"d","tickSize":-4,"labelPadding":9,"labelFontSize":13.5,"title":null}},
"y":{"field":"m","type":"quantitative","scale":{"domain":[0,0.6],"range":[99,17],"nice":false,"zero":false},
"axis":{"orient":"left","offset":-85,"values":[0,0.2,0.4,0.6],"labelExpr":"datum.value == 0 ? '0' : format(datum.value, '.1f')","tickSize":-4,"labelPadding":8,"labelFontSize":13.5,
"title":"m (g)","titleFontWeight":"bold","titleFontSize":14,"titleAngle":270,"titleX":-28,"titleY":54.5,"titleAlign":"center","titleBaseline":"alphabetic"}}
}
},
{
"data":{"name":"mass"},
"mark":{"type":"point","opacity":0},
"encoding":{
"x":{"field":"t","type":"quantitative","scale":{"domain":[0,90000],"range":[85,263],"nice":false,"zero":false},
"axis":{"orient":"top","offset":-17,"values":[0,30000,60000,90000],"labels":false,"tickSize":-4,"title":null}},
"y":{"field":"m","type":"quantitative","scale":{"domain":[0,0.6],"range":[99,17],"nice":false,"zero":false},
"axis":{"orient":"right","offset":-122,"values":[0,0.2,0.4,0.6],"labels":false,"tickSize":-4,"title":null}}
}
},
{
"data":{"name":"d2"},
"mark":{"type":"line","strokeWidth":1},
"encoding":{
"x":{"field":"t","type":"quantitative","scale":{"type":"pow","exponent":1.22,"domain":[0,90000],"range":[85,257],"nice":false,"zero":false},
"axis":{"orient":"bottom","offset":-38,"values":[0,30000,60000,90000],"format":"d","tickSize":-4,"labelPadding":12,"labelFontSize":13.5,"title":null}},
"y":{"field":"a","type":"quantitative","scale":{"domain":[-1.05e-9,1.5e-9],"range":[253,173],"nice":false,"zero":false},
"axis":{"orient":"left","offset":-85,"values":[-1e-9,0,1e-9],"labelExpr":"datum.value > 0 ? '10⁻⁹' : datum.value < 0 ? '-10⁻⁹' : '0'","tickSize":-4,"labelPadding":8.5,"labelFontSize":13.5,
"title":["d²m","—–","dt²"],"titleFontWeight":"normal","titleFontSize":12.5,"titleLineHeight":5.5,"titleAngle":270,"titleX":-45,"titleY":232.5,"titleAlign":"center","titleBaseline":"alphabetic"}},
"color":{"field":"s","type":"nominal","scale":{"domain":["0%","1.1%","2.1%","5.1%","7.2%"],"range":["#44dd33","#4d6bff","#ff33ee","#ff7a30","#ffc830"]},"legend":null}
}
},
{
"data":{"name":"d2"},
"mark":{"type":"point","opacity":0},
"encoding":{
"x":{"field":"t","type":"quantitative","scale":{"type":"pow","exponent":1.22,"domain":[0,90000],"range":[85,257],"nice":false,"zero":false},
"axis":{"orient":"top","offset":-173,"values":[0,30000,60000,90000],"labels":false,"tickSize":-4,"title":null}},
"y":{"field":"a","type":"quantitative","scale":{"domain":[-1.05e-9,1.5e-9],"range":[253,173],"nice":false,"zero":false},
"axis":{"orient":"right","offset":-128,"values":[-1e-9,0,1e-9],"labels":false,"tickSize":-4,
"title":"(g/ s ²)","titleFontWeight":"normal","titleFontSize":13,"titleAngle":270,"titleX":-208.7,"titleY":200,"titleAlign":"center","titleBaseline":"alphabetic"}}
}
}
],
"resolve":{"scale":{"x":"independent","y":"independent"}},
"config":{
"view":{"stroke":null},
"axis":{"grid":false,"labelFont":"Liberation Serif","titleFont":"Liberation Serif","labelColor":"black","titleColor":"black","labelFlush":false,"labelOverlap":false,"domainColor":"black","tickColor":"black","domainWidth":1,"tickWidth":1},
"legend":{"labelAlign":"right","labelOffset":-12,"labelFont":"Liberation Serif","labelFontSize":13.5,"labelColor":"black","rowPadding":-1.5,"symbolStrokeWidth":1,"symbolSize":26,"labelBaseline":"middle","padding":0}
}
}
